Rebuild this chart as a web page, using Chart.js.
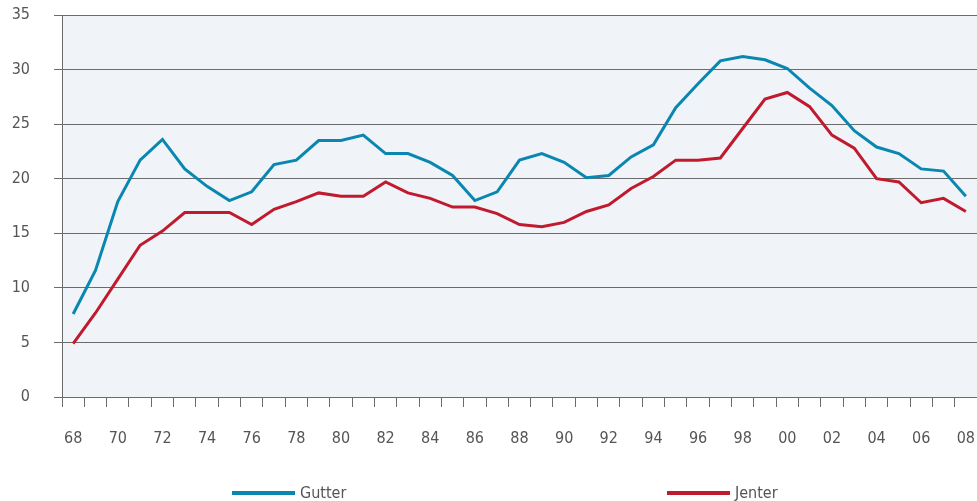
<!DOCTYPE html>
<html>
<head>
<meta charset="utf-8">
<script src="https://cdn.jsdelivr.net/npm/chart.js@4"></script>
<style>
  html, body { margin: 0; padding: 0; background: #fff; }
  #wrap { width: 977px; height: 501px; position: relative; }
</style>
</head>
<body>
<div id="wrap"><canvas id="chart"></canvas></div>
<script>
// years 1968 - 2008
var years = ['68','69','70','71','72','73','74','75','76','77','78','79','80','81','82','83','84','85','86','87',
             '88','89','90','91','92','93','94','95','96','97','98','99','00','01','02','03','04','05','06','07','08'];

var gutter = [7.6, 11.6, 17.9, 21.7, 23.6, 20.9, 19.3, 18.0, 18.8, 21.3, 21.7, 23.5, 23.5, 24.0, 22.3, 22.3, 21.5, 20.3, 18.0, 18.8,
              21.7, 22.3, 21.5, 20.1, 20.3, 22.0, 23.1, 26.5, 28.7, 30.8, 31.2, 30.9, 30.1, 28.3, 26.7, 24.4, 22.9, 22.3, 20.9, 20.7, 18.4];

var jenter = [4.9, 7.7, 10.8, 13.9, 15.2, 16.9, 16.9, 16.9, 15.8, 17.2, 17.9, 18.7, 18.4, 18.4, 19.7, 18.7, 18.2, 17.4, 17.4, 16.8,
              15.8, 15.6, 16.0, 17.0, 17.6, 19.1, 20.2, 21.7, 21.7, 21.9, 24.6, 27.3, 27.9, 26.6, 24.0, 22.8, 20.0, 19.7, 17.8, 18.2, 17.0];

var FONT = '"DejaVu Sans Condensed", "Liberation Sans Narrow", sans-serif';
var TEXT = '#555555';
var GRID = '#6b6b6b';

// light plot background
var plotBg = {
    id: 'plotBg',
    beforeDraw: function (chart) {
        var a = chart.chartArea, ctx = chart.ctx;
        ctx.save();
        ctx.fillStyle = '#f0f4f8';
        ctx.fillRect(a.left, a.top, a.right - a.left, a.bottom - a.top);
        ctx.restore();
    }
};

// legend spread out under the chart
var wideLegend = {
    id: 'wideLegend',
    afterDraw: function (chart) {
        var ctx = chart.ctx;
        var xs = [232, 667];
        var y = 493;
        ctx.save();
        chart.data.datasets.forEach(function (ds, i) {
            ctx.strokeStyle = ds.borderColor;
            ctx.lineWidth = 4;
            ctx.beginPath();
            ctx.moveTo(xs[i], y);
            ctx.lineTo(xs[i] + 63, y);
            ctx.stroke();
            ctx.fillStyle = TEXT;
            ctx.font = '16px ' + FONT;
            ctx.textBaseline = 'middle';
            ctx.fillText(ds.label, xs[i] + 68, y + 1);
        });
        ctx.restore();
    }
};

var ctx = document.getElementById('chart').getContext('2d');
new Chart(ctx, {
    type: 'line',
    data: {
        labels: years,
        datasets: [
            { label: 'Gutter', data: gutter, borderColor: '#0a87b0', borderWidth: 3, pointRadius: 0, tension: 0, fill: false },
            { label: 'Jenter', data: jenter, borderColor: '#c01a2e', borderWidth: 3, pointRadius: 0, tension: 0, fill: false }
        ]
    },
    options: {
        responsive: true,
        maintainAspectRatio: false,
        animation: false,
        layout: { padding: { top: 15, right: 0, bottom: 52, left: 0 } },
        scales: {
            x: {
                offset: true,
                grid: { offset: true, drawOnChartArea: false, color: GRID, tickLength: 10 },
                border: { color: GRID },
                ticks: {
                    autoSkip: false,
                    maxRotation: 0,
                    padding: 22,
                    color: TEXT,
                    font: { family: FONT, size: 16 },
                    callback: function (v, i) { return i % 2 === 0 ? years[i] : ''; }
                },
                afterFit: function (s) { s.height = 52; s.paddingLeft = 0; s.paddingRight = 0; }
            },
            y: {
                min: 0,
                max: 35,
                ticks: { stepSize: 5, padding: 24, color: TEXT, font: { family: FONT, size: 16 } },
                grid: { color: GRID, tickLength: 8 },
                border: { color: GRID },
                afterFit: function (s) { s.width = 62; s.paddingTop = 9; s.paddingBottom = 0; }
            }
        },
        plugins: {
            legend: { display: false },
            tooltip: { enabled: false }
        }
    },
    plugins: [plotBg, wideLegend]
});
</script>
</body>
</html>
